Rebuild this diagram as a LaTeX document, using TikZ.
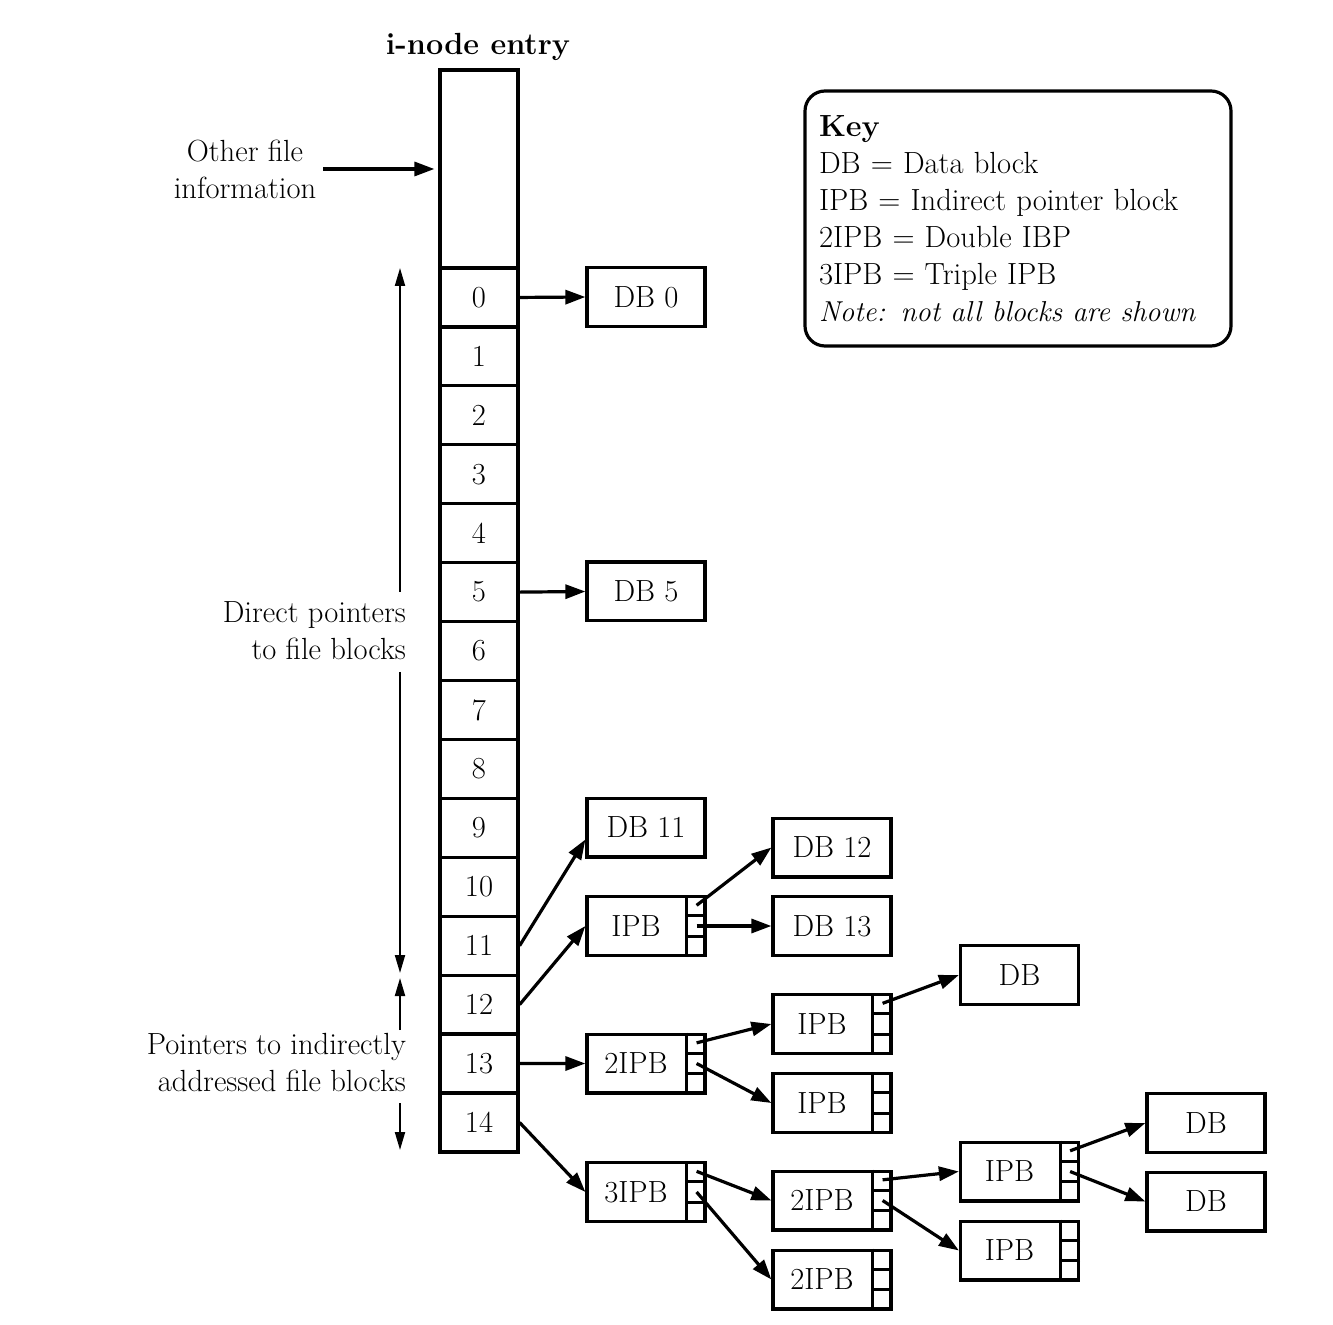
\documentclass[tikz,border=0pt]{standalone}
\usepackage{fontspec}
\usetikzlibrary{arrows.meta,calc}
\begin{document}
\begin{tikzpicture}[x=0.5pt,y=-0.5pt,
  txt/.style={font=\fontsize{15.3}{18.5}\selectfont},
  blk/.style={draw,line width=1.6pt,minimum width=59pt,minimum height=29.4pt,inner sep=0pt,txt},
  cell/.style={draw,line width=1.6pt,minimum width=39pt,minimum height=29.47pt,inner sep=0pt,txt},
  bl/.style={line width=1.6pt},
  ptr/.style={line width=1.6pt,-{Triangle[length=10pt,width=7pt]}},
  thin/.style={line width=1pt,-{Triangle[length=9pt,width=5pt]}}]
\useasboundingbox (0,0) rectangle (1333,1325);
\newcommand\compt[1]{%
 \draw[bl] ([xshift=-10pt]#1.north east) -- ([xshift=-10pt]#1.south east);
 \draw[bl] ($(#1.north east)!1/3!(#1.south east)$) -- ++(-10pt,0);
 \draw[bl] ($(#1.north east)!2/3!(#1.south east)$) -- ++(-10pt,0);
 \coordinate (#1-1) at ($([xshift=-5pt]#1.north east)!1/6!([xshift=-5pt]#1.south east)$);
 \coordinate (#1-2) at ($([xshift=-5pt]#1.north east)!1/2!([xshift=-5pt]#1.south east)$);}
% title
\node[txt,font=\fontsize{15.3}{18.5}\selectfont\bfseries] (title) at (478,47) {i-node entry};
% i-node column
\node[cell,minimum height=99pt] (info) at (479,169) {};
\foreach \i in {0,...,14}{
  \node[cell] (c\i) at (479,{268+58.93*(\i+0.5)}) {\i};
}
% other info
\node[txt,align=center] (oth) at (245,169) {Other file\\information};
\draw[ptr,shorten >=2pt] (oth.east) -- (info.west);
% side labels
\node[txt,align=right,anchor=east] (dir) at (413,631) {Direct pointers\\to file blocks};
\node[txt,align=right,anchor=east] (ind) at (413,1063) {Pointers to indirectly\\addressed file blocks};
\coordinate (a1s) at (400,592);
\coordinate (a1e) at (400,268);
\coordinate (a2s) at (400,672);
\coordinate (a2e) at (400,973);
\coordinate (a3s) at (400,1030);
\coordinate (a3e) at (400,978);
\coordinate (a4s) at (400,1103);
\coordinate (a4e) at (400,1150);
\draw[thin] (a1s) -- (a1e);
\draw[thin] (a2s) -- (a2e);
\draw[thin] (a3s) -- (a3e);
\draw[thin] (a4s) -- (a4e);
% blocks
\node[blk] (db0) at (646,297) {DB 0};
\node[blk] (db5) at (646,591.5) {DB 5};
\node[blk] (db11) at (646,827.5) {DB 11};
\node[blk] (ipb1) at (646,926) {IPB\kern10pt};
\node[blk] (db12) at (832,847.5) {DB 12};
\node[blk] (db13) at (832,926) {DB 13};
\node[blk] (dbx) at (1019.5,975) {DB};
\node[blk] (ipb2) at (646,1063.5) {2IPB\kern10pt};
\node[blk] (ipb2a) at (832,1024) {IPB\kern10pt};
\node[blk] (ipb2b) at (832,1103) {IPB\kern10pt};
\node[blk] (ipb3) at (646,1192) {3IPB\kern10pt};
\node[blk] (ipb3a) at (832,1200.5) {2IPB\kern10pt};
\node[blk] (ipb3b) at (832,1279.5) {2IPB\kern10pt};
\node[blk] (ipb3aa) at (1019.5,1171.5) {IPB\kern10pt};
\node[blk] (ipb3ab) at (1019.5,1250.5) {IPB\kern10pt};
\node[blk] (dba) at (1206,1123) {DB};
\node[blk] (dbb) at (1206,1201.5) {DB};
\foreach \n in {ipb1,ipb2,ipb2a,ipb2b,ipb3,ipb3a,ipb3b,ipb3aa,ipb3ab}{\compt{\n}}
% pointers
\draw[ptr] (c0.east) -- (db0.west);
\draw[ptr] (c5.east) -- (db5.west);
\draw[ptr] (c11.east) -- ([yshift=-6pt]db11.west);
\draw[ptr] (c12.east) -- (ipb1.west);
\draw[ptr] (c13.east) -- (ipb2.west);
\draw[ptr] (c14.east) -- (ipb3.west);
\draw[ptr] (ipb1-1) -- (db12.west);
\draw[ptr] (ipb1-2) -- (db13.west);
\draw[ptr] (ipb2-1) -- (ipb2a.west);
\draw[ptr] (ipb2-2) -- (ipb2b.west);
\draw[ptr] (ipb2a-1) -- (dbx.west);
\draw[ptr] (ipb3-1) -- (ipb3a.west);
\draw[ptr] (ipb3-2) -- (ipb3b.west);
\draw[ptr] (ipb3a-1) -- (ipb3aa.west);
\draw[ptr] (ipb3a-2) -- (ipb3ab.west);
\draw[ptr] (ipb3aa-1) -- (dba.west);
\draw[ptr] (ipb3aa-2) -- (dbb.west);
% key
\node[draw,line width=1.6pt,rounded corners=10pt,txt,align=left,text width=199pt,inner xsep=7pt,minimum height=127.5pt] (key) at (1018,218.5)
 {\textbf{Key}\\DB = Data block\\IPB = Indirect pointer block\\2IPB = Double IBP\\3IPB = Triple IPB\\{\fontsize{14.4}{18.5}\selectfont\itshape Note: not all blocks are shown}};
\end{tikzpicture}
\end{document}
